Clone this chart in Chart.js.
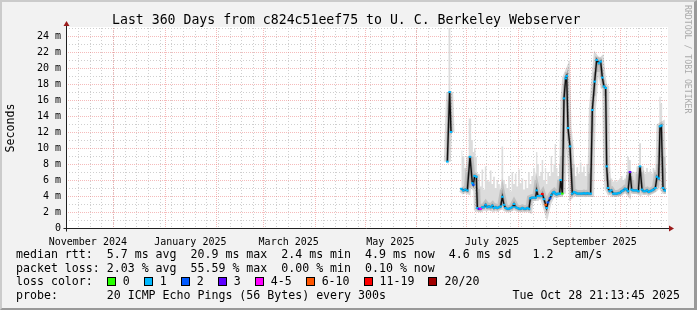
<!DOCTYPE html>
<html>
<head>
<meta charset="utf-8">
<title>Last 360 Days from c824c51eef75 to U. C. Berkeley Webserver</title>
<script src="https://cdn.jsdelivr.net/npm/chart.js@4/dist/chart.umd.min.js"></script>
<style>
  body { margin: 0; background: #f2f2f2; }
  #frame { position: absolute; left: 0; top: 0; width: 697px; height: 310px; box-sizing: border-box;
    border-top: 2px solid #cbcbcb; border-left: 2px solid #cbcbcb;
    border-right: 3px solid #999; border-bottom: 2px solid #999; }
  #chart { position: absolute; left: 0; top: 0; }
  .txt { position: absolute; font-family: "DejaVu Sans Mono", monospace; color: #000; white-space: pre; }
  #title { left: 112px; top: 12px; font-size: 13.2px; line-height: 15px; }
  #legend { left: 16px; top: 248px; font-size: 11.6px; line-height: 13.7px; }
  #stamp { right: 17px; top: 289px; font-size: 11.6px; line-height: 13.7px; }
  #credit { left: 683px; top: 5px; writing-mode: vertical-rl; font-size: 8.2px; color: #aaa; }
  .box { display: inline-block; width: 9px; height: 9px; box-sizing: border-box; border: 1px solid #000;
    vertical-align: -1px; margin-right: 7px; }
  .lab { margin-right: 14px; }
</style>
</head>
<body>
<div id="frame"></div>
<canvas id="chart" width="697" height="310"></canvas>
<div id="title" class="txt">Last 360 Days from c824c51eef75 to U. C. Berkeley Webserver</div>
<div id="credit" class="txt">RRDTOOL / TOBI OETIKER</div>
<div id="legend" class="txt"><div>median rtt:  5.7 ms avg  20.9 ms max  2.4 ms min  4.9 ms now  4.6 ms sd   1.2   am/s</div><div>packet loss: 2.03 % avg  55.59 % max  0.00 % min  0.10 % now</div><div id="lossRow">loss color:  </div><div>probe:       20 ICMP Echo Pings (56 Bytes) every 300s</div></div>
<div id="stamp" class="txt">Tue Oct 28 21:13:45 2025</div>
<script>
// graph window: 360 days ending Tue Oct 28 21:13:45 2025
var startDate = Date.UTC(2024, 10, 2, 21, 13, 45);
var spanDays = 360;
var dayMs = 86400000;

var monthLabels = ['November 2024', 'January 2025', 'March 2025', 'May 2025', 'July 2025', 'September 2025'];
var yTicks = [0, 2, 4, 6, 8, 10, 12, 14, 16, 18, 20, 22, 24];

var lossBuckets = ['0', '1', '2', '3', '4-5', '6-10', '11-19', '20/20'];
var lossUpper = [0, 1, 2, 3, 5, 10, 19, 20];
var lossColors = ['#26ff00', '#00b8ff', '#0059ff', '#5e00ff', '#ff00ff', '#ff5500', '#ff0000', '#a10000'];

// days since start of the window
var days = [
    228.8, 230.2, 231.0, 234.0, 237.2, 238.4, 239.6, 240.8, 242.4, 243.8,
    244.4, 245.2, 246.2, 246.8, 247.8, 248.8, 249.8, 250.8, 251.8, 252.8,
    253.8, 254.8, 255.8, 256.8, 257.8, 258.8, 259.8, 260.8, 261.8, 262.8,
    263.8, 264.8, 265.8, 266.8, 267.8, 268.8, 269.8, 270.8, 271.8, 272.8,
    273.8, 274.8, 275.8, 276.8, 277.8, 278.6, 279.8, 280.8, 281.8, 282.4,
    283.2, 284.2, 285.0, 285.8, 286.8, 287.8, 288.4, 289.2, 290.4, 291.2,
    292.2, 292.8, 293.6, 294.4, 295.4, 296.2, 296.8, 297.8, 298.8, 299.8,
    300.4, 301.2, 302.4, 303.8, 304.8, 305.8, 306.8, 307.8, 308.8, 309.8,
    310.8, 311.8, 312.8, 313.8, 314.8, 315.8, 317.2, 318.4, 319.8, 320.8,
    321.8, 322.8, 323.8, 324.4, 325.2, 326.2, 327.2, 328.4, 329.4, 330.4,
    331.4, 332.4, 333.4, 334.4, 335.4, 336.4, 337.2, 338.4, 339.4, 340.4,
    341.4, 342.4, 343.4, 344.4, 345.6, 346.6, 347.6, 348.6, 349.6, 350.6,
    351.6, 352.4, 353.6, 354.6, 355.6, 356.4, 357.2, 358.2, 359.2, 360.0
];

// median rtt in ms
var median = [
    8.3, 17.0, 12.0, null, 4.9, 4.7, 4.8, 4.7, 8.9, 5.6,
    5.4, 6.5, 6.4, 2.5, 2.4, 2.4, 2.6, 2.6, 2.9, 2.6,
    2.7, 2.6, 2.8, 2.5, 2.6, 2.5, 2.6, 2.7, 3.9, 2.9,
    2.5, 2.4, 2.4, 2.5, 2.6, 3.0, 2.6, 2.5, 2.4, 2.4,
    2.5, 2.4, 2.4, 2.5, 2.4, 3.7, 3.8, 3.8, 3.8, 4.7,
    4.0, 4.0, 4.0, 4.25, 3.6, 2.9, 2.5, 3.2, 3.7, 4.1,
    4.4, 4.5, 4.3, 4.2, 4.3, 4.3, 6.0, 4.3, 16.2, 18.7,
    19.0, 12.5, 10.2, 4.3, 4.5, 4.4, 4.3, 4.3, 4.3, 4.3,
    4.35, 4.3, 4.35, 4.3, 4.3, 14.75, 18.3, 21.0, 20.6, 20.8,
    18.8, 17.7, 17.5, 7.7, 5.0, 4.6, 4.7, 4.3, 4.3, 4.3,
    4.35, 4.4, 4.6, 4.7, 4.9, 4.8, 4.6, 7.0, 4.8, 4.7,
    4.7, 4.7, 4.6, 7.7, 4.8, 4.6, 4.6, 4.7, 4.5, 4.6,
    4.7, 4.8, 5.0, 6.4, 6.2, 12.7, 12.8, 5.0, 4.7, 4.7
];

// lowest and highest ping of each step (the smoke)
var smokeLow = [
    8.0, 12.5, 11.6, null, 4.5, 4.4, 4.5, 4.4, 5.0, 5.2,
    5.0, 5.8, 5.6, 2.2, 2.1, 2.1, 2.3, 2.3, 2.5, 2.3,
    2.3, 2.2, 2.4, 2.2, 2.3, 2.2, 2.3, 2.3, 3.0, 2.5,
    2.2, 2.1, 2.1, 2.2, 2.2, 2.6, 2.3, 2.2, 2.1, 2.1,
    2.2, 2.1, 2.1, 2.2, 2.1, 3.2, 3.4, 3.4, 3.4, 4.0,
    3.6, 3.6, 3.6, 3.8, 3.2, 2.5, 2.2, 2.8, 3.3, 3.7,
    4.0, 4.1, 3.9, 3.8, 3.9, 3.9, 5.0, 3.9, 10.0, 16.0,
    17.5, 11.0, 9.0, 4.0, 4.1, 4.0, 3.9, 3.9, 3.9, 3.9,
    3.9, 3.9, 3.9, 3.9, 3.9, 12.0, 16.5, 19.5, 19.5, 19.0,
    17.5, 16.5, 16.5, 6.0, 4.5, 4.2, 4.3, 4.0, 4.0, 4.0,
    4.0, 4.0, 4.2, 4.3, 4.5, 4.4, 4.2, 5.5, 4.4, 4.3,
    4.3, 4.3, 4.3, 5.5, 4.4, 4.2, 4.2, 4.3, 4.2, 4.2,
    4.3, 4.4, 4.5, 5.2, 5.0, 9.0, 10.0, 4.5, 4.3, 4.3
];

var smokeHigh = [
    16.0, 26.0, 13.5, null, 9.7, 9.0, 7.5, 7.0, 13.7, 11.0,
    9.5, 10.0, 8.9, 4.5, 4.9, 5.2, 7.3, 4.8, 7.7, 6.0,
    5.8, 7.2, 5.5, 6.4, 5.0, 6.0, 5.5, 4.8, 10.2, 6.0,
    5.5, 5.0, 6.5, 4.6, 7.0, 5.5, 6.8, 5.2, 7.3, 5.6,
    6.2, 4.8, 6.0, 5.0, 7.0, 5.5, 6.5, 7.5, 6.0, 9.5,
    8.0, 6.5, 7.0, 8.5, 6.0, 7.5, 5.5, 7.0, 6.5, 9.0,
    7.0, 8.0, 10.5, 7.5, 6.5, 8.0, 9.0, 5.5, 18.0, 19.5,
    19.2, 13.5, 11.0, 7.5, 8.0, 6.5, 7.6, 6.8, 8.2, 7.0,
    7.7, 6.5, 8.0, 6.8, 7.5, 16.0, 19.5, 21.4, 21.4, 21.3,
    20.0, 18.5, 18.0, 9.0, 6.8, 6.0, 6.2, 5.8, 6.0, 5.8,
    6.0, 6.2, 6.5, 6.0, 6.2, 6.5, 8.9, 8.5, 6.5, 6.0,
    7.0, 6.8, 7.5, 10.6, 7.0, 7.2, 6.8, 7.5, 7.0, 7.2,
    6.8, 7.5, 7.0, 8.0, 7.5, 16.4, 15.5, 9.0, 8.9, 7.5
];

// lost pings out of 20
var lossCount = [
    1, 1, 1, null, 1, 1, 1, 1, 1, 1,
    2, 1, 1, 1, 3, 4, 1, 1, 1, 1,
    1, 1, 1, 1, 1, 1, 1, 1, 1, 1,
    1, 1, 1, 1, 1, 1, 1, 1, 1, 1,
    1, 1, 1, 1, 1, 1, 1, 1, 1, 1,
    1, 1, 1, 12, 1, 7, 1, 2, 2, 1,
    1, 1, 1, 1, 1, 1, 1, 0, 1, 1,
    1, 1, 1, 1, 1, 1, 1, 1, 1, 1,
    1, 1, 1, 1, 1, 1, 1, 1, 1, 1,
    1, 1, 1, 1, 1, 1, 1, 1, 1, 1,
    1, 1, 1, 1, 1, 1, 1, 3, 1, 1,
    1, 1, 1, 1, 1, 1, 1, 1, 1, 1,
    1, 1, 1, 1, 1, 1, 1, 1, 1, 1
];

function dayOf(y, m, d) {
    return (Date.UTC(y, m, d) - startDate) / dayMs;
}

function lossColor(n) {
    if (n === null) return 'rgba(0,0,0,0)';
    var i = lossUpper.findIndex(u => n <= u);
    return lossColors[i];
}

function pts(values) {
    return days.map((d, i) => ({ x: d, y: values[i] }));
}

// tick label positions: middle of every other month
var labelDays = monthLabels.map((l, i) => {
    var m = 10 + 2 * i;
    return (dayOf(2024, m, 1) + dayOf(2024, m + 1, 1)) / 2;
});

// month starts (major grid) and sundays (minor grid)
var monthLines = [];
for (var k = 0; dayOf(2024, 11 + k, 1) < spanDays; k++) monthLines.push(dayOf(2024, 11 + k, 1));
var weekLines = [];
for (var w = dayOf(2024, 10, 3); w < spanDays; w += 7) weekLines.push(w);

// legend of loss colors
var lossRow = document.getElementById('lossRow');
lossBuckets.forEach((b, i) => {
    var box = document.createElement('span');
    box.className = 'box';
    box.style.background = lossColors[i];
    var lab = document.createElement('span');
    lab.className = 'lab';
    lab.textContent = b;
    lossRow.appendChild(box);
    lossRow.appendChild(lab);
});

var rrdGrid = {
    id: 'rrdGrid',
    beforeDraw(chart) {
        var ctx = chart.ctx, a = chart.chartArea, x = chart.scales.x, y = chart.scales.y;
        ctx.save();
        ctx.fillStyle = '#fff';
        ctx.fillRect(a.left, a.top - 1, a.right - a.left + 2, a.bottom - a.top + 1);
        ctx.lineWidth = 1;

        // minor grid
        ctx.strokeStyle = '#cfcfcf';
        ctx.setLineDash([1, 2]);
        ctx.beginPath();
        weekLines.forEach(d => {
            var px = Math.round(x.getPixelForValue(d)) + 0.5;
            ctx.moveTo(px, a.top);
            ctx.lineTo(px, a.bottom);
        });
        for (var v = 1; v <= 25; v += 2) {
            var py = Math.round(y.getPixelForValue(v)) + 0.5;
            ctx.moveTo(a.left, py);
            ctx.lineTo(a.right + 2, py);
        }
        ctx.stroke();

        // major grid
        ctx.strokeStyle = 'rgba(235,120,120,0.5)';
        ctx.setLineDash([1, 1]);
        ctx.beginPath();
        monthLines.forEach(d => {
            var px = Math.round(x.getPixelForValue(d)) + 0.5;
            ctx.moveTo(px, a.top);
            ctx.lineTo(px, a.bottom);
        });
        yTicks.slice(1).forEach(v => {
            var py = Math.round(y.getPixelForValue(v)) + 0.5;
            ctx.moveTo(a.left, py);
            ctx.lineTo(a.right + 2, py);
        });
        ctx.stroke();
        ctx.restore();
    },
    afterDraw(chart) {
        var ctx = chart.ctx, a = chart.chartArea;
        var ax = Math.round(a.left) + 0.5, ay = Math.round(a.bottom) + 0.5;
        ctx.save();
        ctx.setLineDash([]);
        ctx.strokeStyle = '#202020';
        ctx.lineWidth = 1;
        ctx.beginPath();
        ctx.moveTo(ax, ay + 3);
        ctx.lineTo(ax, a.top - 3);
        ctx.moveTo(ax - 3, ay);
        ctx.lineTo(a.right + 3, ay);
        ctx.stroke();

        ctx.fillStyle = '#9b1c1c';
        ctx.beginPath();
        ctx.moveTo(ax, a.top - 7);
        ctx.lineTo(ax + 3, a.top - 2);
        ctx.lineTo(ax - 3, a.top - 2);
        ctx.closePath();
        ctx.fill();
        ctx.beginPath();
        ctx.moveTo(a.right + 8, ay);
        ctx.lineTo(a.right + 3, ay - 3);
        ctx.lineTo(a.right + 3, ay + 3);
        ctx.closePath();
        ctx.fill();
        ctx.restore();
    }
};

var tickFont = { family: 'DejaVu Sans Mono', size: 10 };

new Chart(document.getElementById('chart'), {
    type: 'line',
    data: {
        datasets: [
            {
                label: 'loss',
                data: pts(median),
                showLine: false,
                pointStyle: 'line',
                pointRadius: 1.3,
                pointBorderWidth: 2,
                pointBorderColor: lossCount.map(lossColor),
                order: 0
            },
            {
                label: 'median',
                data: pts(median),
                borderColor: '#111',
                borderWidth: 1.4,
                pointRadius: 0,
                order: 1
            },
            {
                label: 'smoke core',
                data: pts(median),
                borderColor: 'rgba(70,70,70,0.3)',
                borderWidth: 3,
                pointRadius: 0,
                order: 2
            },
            {
                label: 'smoke haze',
                data: pts(median),
                borderColor: 'rgba(130,130,130,0.3)',
                borderWidth: 7,
                pointRadius: 0,
                order: 3
            },
            {
                label: 'smoke low',
                data: pts(smokeLow),
                borderColor: 'rgba(0,0,0,0)',
                borderWidth: 0,
                stepped: 'middle',
                pointRadius: 0,
                fill: '+1',
                backgroundColor: '#dcdcdc',
                order: 4
            },
            {
                label: 'smoke high',
                data: pts(smokeHigh),
                borderColor: 'rgba(0,0,0,0)',
                borderWidth: 0,
                stepped: 'middle',
                pointRadius: 0,
                fill: false,
                order: 5
            }
        ]
    },
    options: {
        responsive: false,
        animation: false,
        devicePixelRatio: 1,
        events: [],
        layout: { padding: { top: 28, right: 31, bottom: 0, left: 0 } },
        plugins: {
            legend: { display: false },
            tooltip: { enabled: false },
            title: { display: false }
        },
        scales: {
            x: {
                type: 'linear',
                min: 0,
                max: spanDays,
                grid: { display: false, drawTicks: false },
                border: { display: false },
                afterBuildTicks: s => { s.ticks = labelDays.map(v => ({ value: v })); },
                afterFit: s => { s.height = 82; },
                ticks: {
                    autoSkip: false,
                    maxRotation: 0,
                    padding: 8,
                    color: '#000',
                    font: tickFont,
                    callback: (v, i) => monthLabels[i]
                }
            },
            y: {
                min: 0,
                max: 25,
                grid: { display: false, drawTicks: false },
                border: { display: false },
                afterBuildTicks: s => { s.ticks = yTicks.map(v => ({ value: v })); },
                afterFit: s => { s.width = 66; },
                ticks: {
                    padding: 5,
                    color: '#000',
                    font: tickFont,
                    callback: v => v === 0 ? '0' : v + ' m'
                },
                title: {
                    display: true,
                    text: 'Seconds',
                    color: '#000',
                    font: { family: 'DejaVu Sans Mono', size: 11.6 },
                    padding: { top: 4, bottom: 0 }
                }
            }
        }
    },
    plugins: [rrdGrid]
});
</script>
</body>
</html>
